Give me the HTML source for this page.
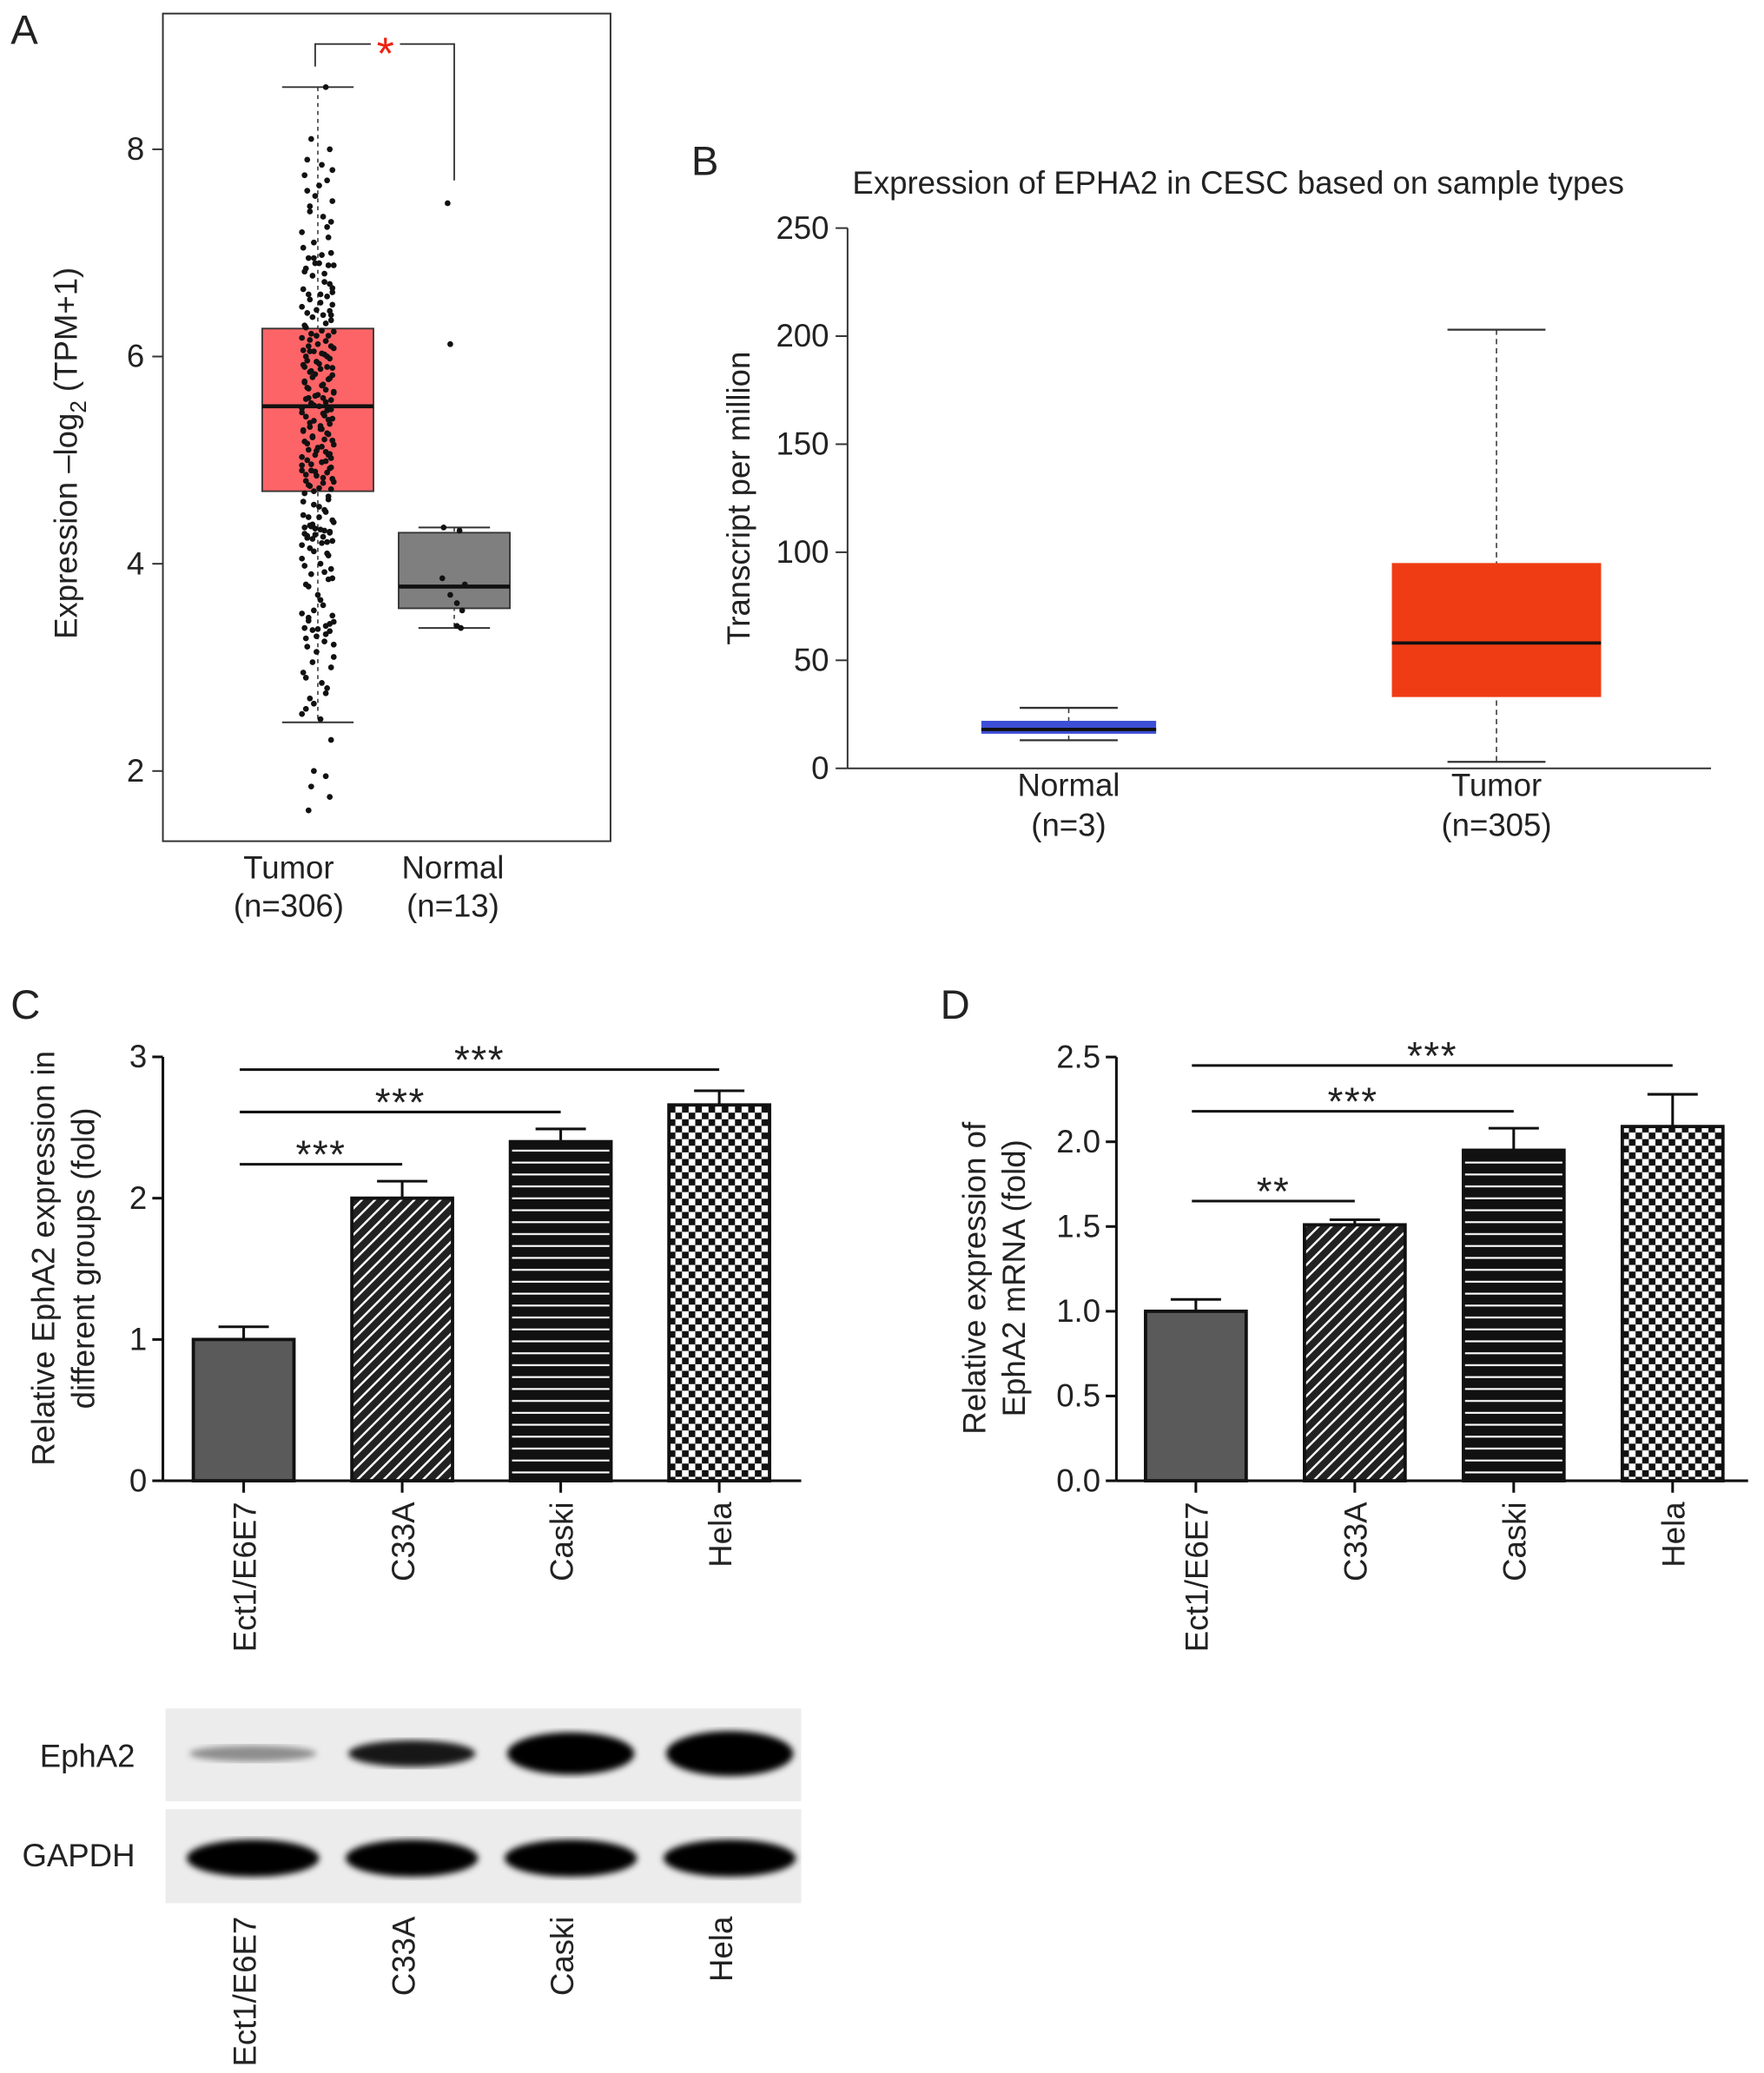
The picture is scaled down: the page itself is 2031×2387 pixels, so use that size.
<!DOCTYPE html>
<html><head><meta charset="utf-8"><style>
html,body{margin:0;padding:0;background:#fff}
svg{display:block}
text{font-family:"Liberation Sans",Arial,sans-serif;fill:#222}
</style></head><body>
<svg id="fig" width="2031" height="2387" viewBox="0 0 1332 1565" xmlns="http://www.w3.org/2000/svg">
<defs>
<pattern id="diag" width="7" height="7" patternUnits="userSpaceOnUse" patternTransform="rotate(45)"><rect width="7" height="7" fill="#222"/><rect x="0" width="1.6" height="7" fill="#fff"/></pattern>
<pattern id="horiz" width="8" height="9" patternUnits="userSpaceOnUse"><rect width="8" height="9" fill="#111"/><rect y="4" width="8" height="1.4" fill="#fff"/></pattern>
<pattern id="check" width="10" height="10" patternUnits="userSpaceOnUse"><rect width="10" height="10" fill="#fff"/><rect width="5" height="5" fill="#111"/><rect x="5" y="5" width="5" height="5" fill="#111"/></pattern>
<filter id="blur"><feGaussianBlur stdDeviation="2.5"/></filter>
</defs>
<g id="pA"></g>
<g id="pB"></g>
<g id="pC"></g>
<g id="pD"></g>
<g id="blot"></g>
</svg>
<script>
// ---- Panel A data ----
const aTicks=[2,4,6,8];
const aGroups=["Tumor","Normal"];
const aCounts=["(n=306)","(n=13)"];
const aLabelX=[218,342];
const aQ1=[4.7,3.57], aMed=[5.52,3.78], aQ3=[6.27,4.3], aLo=[2.47,3.38], aHi=[8.6,4.35];
const tumorPts=[8.6,8.1,8.0,7.9,7.85,7.75,7.7,7.55,7.5,7.45,7.35,7.2,7.15,7.1,7.0,6.95,6.9,6.88,6.85,6.8,6.78,6.7,6.65,6.6,6.58,6.55,6.5,6.45,6.42,6.4,6.35,6.3,6.25,6.22,6.2,6.18,6.15,6.12,6.1,6.08,6.05,6.02,6.0,5.98,5.95,5.92,5.9,5.88,5.85,5.82,5.8,5.78,5.75,5.72,5.7,5.68,5.65,5.62,5.6,5.58,5.55,5.52,5.5,5.48,5.45,5.42,5.4,5.38,5.35,5.32,5.3,5.28,5.25,5.22,5.2,5.18,5.15,5.12,5.1,5.08,5.05,5.02,5.0,4.98,4.95,4.92,4.9,4.88,4.85,4.82,4.8,4.78,4.75,4.72,4.7,4.65,4.6,4.55,4.5,4.45,4.4,4.38,4.35,4.32,4.3,4.28,4.25,4.22,4.2,4.15,4.1,4.05,4.0,3.95,3.9,3.85,3.8,3.7,3.6,3.55,3.5,3.45,3.4,3.38,3.35,3.3,3.25,3.2,3.1,3.05,2.95,2.85,2.8,2.7,2.6,2.5,2.3,2.0,1.95,1.85,1.75,1.62,6.62,6.9,5.9,5.6,5.05,4.9,4.45,6.05,6.4,5.3];
const tumorPts2=[6.95,6.88,6.82,6.72,6.66,6.6,6.52,6.48,6.44,6.38,6.32,6.28,6.24,6.2,6.16,6.1,6.06,6.03,6.0,5.96,5.93,5.89,5.86,5.83,5.79,5.76,5.73,5.69,5.66,5.63,5.59,5.56,5.53,5.49,5.46,5.43,5.39,5.36,5.33,5.29,5.26,5.23,5.19,5.16,5.13,5.09,5.06,5.03,4.99,4.96,4.93,4.89,4.86,4.83,4.79,4.76,4.73,4.68,4.62,4.57,4.52,4.47,4.42,4.37,4.33,4.3,4.27,4.24,4.21,4.18,4.12,4.08,3.98,3.92,3.86,3.78,3.65,3.52,3.42,3.36,3.32,3.28,3.22,3.15,7.4,7.3,7.05,6.98,7.25,7.6,7.65,7.8,4.36,4.34,4.31,4.29,4.26,3.48,3.44,3.37,2.9,2.75,2.65,3.0,2.55];
const tumorJit=[6,-5,9,-8,3,-10,7,-2,11,-6,4,-12,8,-3,10,-7,1,12,-9,5,-4,9,-11,2,7,-6,11,-1,-8,4,10,-10,3,-5,8,-12,6,0,-7,12,-3,5,-9,9,-1,-11,7,2,-6,11,-4,8,-10,3,-8,6,12,-2,-7,10,-5,1,-12,7,4,-9,11,-3,9,-6,2,-11,8,-4,5,-10,12,0,-7,6,-2,10,-8,3,-12,9,-5,7,-1,11,-9,4,-6,10,-3,8,-11,1,6,-7,12,-4,-10,5,9,-2,-8,11,3,-6,7,-12,2,10,-5,8,-9,0,4,-3,11,-7,6,-10,9,-1,5,-8,12,-4,-11,3,7,-6,-9,2,10,-3,6,-5,9,-7,11,-2,-10,4,8,-12,1,-6,10,3];
const tumorJit2=[-3,8,-10,5,11,-7,2,-12,9,-4,6,-9,12,-1,-6,10,-11,3,7,-8,1,11,-5,-2,9,-10,4,-7,12,0,-9,6,-3,10,-12,5,8,-6,2,-11,7,-4,11,-8,3,-1,9,-12,6,-5,10,-2,-9,4,12,-7,1,-10,8,-3,5,-11,11,-6,2,9,-8,-4,7,-12];
const normalPts=[7.48,6.12,4.35,4.32,3.86,3.8,3.7,3.62,3.55,3.4,3.38];
const normalJit=[-5,-3,-8,4,-9,8,-3,2,6,2,5];
// ---- Panel B data ----
const bTicks=[0,50,100,150,200,250];
const bGroups=["Normal","Tumor"];
const bCounts=["(n=3)","(n=305)"];
const bQ1=[16,33], bMed=[18,58], bQ3=[22,95], bLo=[13,3], bHi=[28,203];
// ---- Panel C data ----
const cCats=["Ect1/E6E7","C33A","Caski","Hela"];
const cVals=[1.0,2.0,2.4,2.66];
const cErr=[0.09,0.12,0.09,0.1];
const cTicks=[0,1,2,3];
const cSig=[[0,1,"***",2.24],[0,2,"***",2.61],[0,3,"***",2.91]];
// ---- Panel D data ----
const dCats=["Ect1/E6E7","C33A","Caski","Hela"];
const dVals=[1.0,1.51,1.95,2.09];
const dErr=[0.07,0.03,0.13,0.19];
const dTicks=[0,0.5,1,1.5,2,2.5];
const dTickLbl=["0.0","0.5","1.0","1.5","2.0","2.5"];
const dSig=[[0,1,"**",1.65],[0,2,"***",2.18],[0,3,"***",2.45]];
// ---- Blot ----
const blotLanes=["Ect1/E6E7","C33A","Caski","Hela"];
const ephaInt=[0.4,0.9,1.0,1.0];
const ephaH=[6,10,16,17];
const gapdhInt=[1,1,1,1];

const FS=24;
const NS="http://www.w3.org/2000/svg";
function mk(parent,tag,attrs,name,txt){const e=document.createElementNS(NS,tag);for(const k in attrs)e.setAttribute(k,attrs[k]);


if(txt!==undefined)e.textContent=txt;parent.appendChild(e);return e;}

// Panel A
(function(){const g=document.getElementById('pA');
const y=v=>582-(v-2)*78.25; const cx=[240,343]; const hw=42;
mk(g,'text',{x:8,y:33,'font-size':31},'panel-label-a','A');
mk(g,'rect',{x:123,y:10,width:338,height:625,fill:'none',stroke:'#333','stroke-width':1.3},'plot-frame');
aTicks.forEach(t=>{mk(g,'line',{x1:115,x2:123,y1:y(t),y2:y(t),stroke:'#333','stroke-width':1.3},'y-tick');
mk(g,'text',{x:109,y:y(t)+8,'font-size':FS,'text-anchor':'end'},'y-tick-label',t);});
const yl=mk(g,'text',{x:0,y:0,'font-size':FS,'text-anchor':'middle',transform:'translate(58,342) rotate(-90)'},'y-axis-title');
yl.innerHTML='Expression \u2013log<tspan font-size="17" dy="7">2</tspan><tspan dy="-7"> (TPM+1)</tspan>';
const fills=['#fc6467','#7f7f7f'];
for(let i=0;i<2;i++){
mk(g,'line',{x1:cx[i],x2:cx[i],y1:y(aHi[i]),y2:y(aLo[i]),stroke:'#333','stroke-dasharray':'3,3','stroke-width':1},'whisker');
mk(g,'line',{x1:cx[i]-27,x2:cx[i]+27,y1:y(aHi[i]),y2:y(aHi[i]),stroke:'#333','stroke-width':1.3},'whisker-cap');
mk(g,'line',{x1:cx[i]-27,x2:cx[i]+27,y1:y(aLo[i]),y2:y(aLo[i]),stroke:'#333','stroke-width':1.3},'whisker-cap');
mk(g,'rect',{x:cx[i]-hw,y:y(aQ3[i]),width:2*hw,height:y(aQ1[i])-y(aQ3[i]),fill:fills[i],stroke:'#333','stroke-width':1.2},'box-'+aGroups[i].toLowerCase());
mk(g,'line',{x1:cx[i]-hw,x2:cx[i]+hw,y1:y(aMed[i]),y2:y(aMed[i]),stroke:'#111','stroke-width':3},'median-line');
mk(g,'text',{x:aLabelX[i],y:663,'font-size':FS,'text-anchor':'middle'},'x-tick-label',aGroups[i]);
mk(g,'text',{x:aLabelX[i],y:692,'font-size':FS,'text-anchor':'middle'},'x-count-label',aCounts[i]);}
tumorPts.forEach((v,k)=>mk(g,'circle',{cx:cx[0]+tumorJit[k%tumorJit.length],cy:y(v),r:2.2,fill:'#111'},'tumor-point'));
tumorPts2.forEach((v,k)=>mk(g,'circle',{cx:cx[0]+tumorJit2[k%tumorJit2.length],cy:y(v),r:2.2,fill:'#111'},'tumor-point'));
normalPts.forEach((v,k)=>mk(g,'circle',{cx:cx[1]+normalJit[k],cy:y(v),r:2.2,fill:'#111'},'normal-point'));
mk(g,'path',{d:'M238 50 V33 H280 M302 33 H343 V136',fill:'none',stroke:'#333','stroke-width':1.2},'significance-bracket');
mk(g,'text',{x:291,y:52,'font-size':34,'text-anchor':'middle'},'significance-star','*').style.fill='#e21';
})();

// Panel B
(function(){const g=document.getElementById('pB');
const y=v=>580-v*1.632; const cx=[807,1130]; const hw=[66,79];
mk(g,'text',{x:522,y:132,'font-size':31},'panel-label-b','B');
mk(g,'text',{x:935,y:146,'font-size':FS,'text-anchor':'middle'},'chart-title','Expression of EPHA2 in CESC based on sample types');
mk(g,'line',{x1:640,x2:640,y1:y(250),y2:y(0),stroke:'#333','stroke-width':1.3},'y-axis');
mk(g,'line',{x1:640,x2:1292,y1:y(0),y2:y(0),stroke:'#333','stroke-width':1.3},'x-axis');
bTicks.forEach(t=>{mk(g,'line',{x1:631,x2:640,y1:y(t),y2:y(t),stroke:'#333','stroke-width':1.3},'y-tick');
mk(g,'text',{x:626,y:y(t)+8,'font-size':FS,'text-anchor':'end'},'y-tick-label',t);});
mk(g,'text',{x:0,y:0,'font-size':FS,'text-anchor':'middle',transform:'translate(566,376) rotate(-90)'},'y-axis-title','Transcript per million');
const fills=['#3d4fd6','#f03c14'];
for(let i=0;i<2;i++){
mk(g,'line',{x1:cx[i],x2:cx[i],y1:y(bHi[i]),y2:y(bLo[i]),stroke:'#333','stroke-dasharray':'4,3','stroke-width':1},'whisker');
mk(g,'line',{x1:cx[i]-37,x2:cx[i]+37,y1:y(bHi[i]),y2:y(bHi[i]),stroke:'#333','stroke-width':1.5},'whisker-cap');
mk(g,'line',{x1:cx[i]-37,x2:cx[i]+37,y1:y(bLo[i]),y2:y(bLo[i]),stroke:'#333','stroke-width':1.5},'whisker-cap');
mk(g,'rect',{x:cx[i]-hw[i],y:y(bQ3[i]),width:2*hw[i],height:y(bQ1[i])-y(bQ3[i]),fill:fills[i]},'box-'+bGroups[i].toLowerCase());
mk(g,'line',{x1:cx[i]-hw[i],x2:cx[i]+hw[i],y1:y(bMed[i]),y2:y(bMed[i]),stroke:'#111','stroke-width':2.5},'median-line');
mk(g,'text',{x:cx[i],y:601,'font-size':FS,'text-anchor':'middle'},'x-tick-label',bGroups[i]);
mk(g,'text',{x:cx[i],y:631,'font-size':FS,'text-anchor':'middle'},'x-count-label',bCounts[i]);}
})();

// bar chart helper
function barChart(g,o){
const y=v=>o.y0-v*o.k;
mk(g,'line',{x1:o.ax,x2:o.ax,y1:y(o.ticks[o.ticks.length-1]),y2:o.y0,stroke:'#111','stroke-width':2},'y-axis');
mk(g,'line',{x1:o.ax,x2:o.ax2,y1:o.y0,y2:o.y0,stroke:'#111','stroke-width':2},'x-axis');
o.ticks.forEach((t,i)=>{mk(g,'line',{x1:o.ax-8,x2:o.ax,y1:y(t),y2:y(t),stroke:'#111','stroke-width':2},'y-tick');
mk(g,'text',{x:o.ax-12,y:y(t)+8,'font-size':FS,'text-anchor':'end'},'y-tick-label',o.tl?o.tl[i]:t);});
const fills=['#5a5a5a','url(#diag)','url(#horiz)','url(#check)'];
o.cats.forEach((c,i)=>{const cx=o.cx0+i*o.dx;
mk(g,'line',{x1:cx,x2:cx,y1:o.y0,y2:o.y0+9,stroke:'#111','stroke-width':2},'x-tick');
mk(g,'line',{x1:cx,x2:cx,y1:y(o.vals[i]+o.err[i]),y2:y(o.vals[i]-o.err[i]),stroke:'#111','stroke-width':2},'error-bar');
mk(g,'line',{x1:cx-19,x2:cx+19,y1:y(o.vals[i]+o.err[i]),y2:y(o.vals[i]+o.err[i]),stroke:'#111','stroke-width':2},'error-cap');
mk(g,'line',{x1:cx-19,x2:cx+19,y1:y(o.vals[i]-o.err[i]),y2:y(o.vals[i]-o.err[i]),stroke:'#111','stroke-width':2},'error-cap');
mk(g,'rect',{x:cx-38,y:y(o.vals[i]),width:76,height:o.y0-y(o.vals[i]),fill:fills[i],stroke:'#111','stroke-width':2.5},'bar-'+c.toLowerCase().replace('/','-'));
mk(g,'text',{x:0,y:0,'font-size':FS,'text-anchor':'end',transform:`translate(${cx+9},${o.y0+16}) rotate(-90)`},'x-tick-label',c);});
o.sig.forEach(s=>{const x1=o.cx0+s[0]*o.dx-3,x2=o.cx0+s[1]*o.dx;
mk(g,'line',{x1:x1,x2:x2,y1:y(s[3]),y2:y(s[3]),stroke:'#111','stroke-width':2},'significance-line');
mk(g,'text',{x:(x1+x2)/2,y:y(s[3])+3,'font-size':30,'text-anchor':'middle','letter-spacing':1},'significance-stars',s[2]);});
}
(function(){const g=document.getElementById('pC');
mk(g,'text',{x:8,y:769,'font-size':31},'panel-label-c','C');
barChart(g,{y0:1118,k:106.7,ax:123,ax2:605,cx0:184,dx:119.7,cats:cCats,vals:cVals,err:cErr,ticks:cTicks,sig:cSig});
mk(g,'text',{x:0,y:0,'font-size':FS,'text-anchor':'middle',transform:'translate(41,950) rotate(-90)'},'y-axis-title','Relative EphA2 expression in');
mk(g,'text',{x:0,y:0,'font-size':FS,'text-anchor':'middle',transform:'translate(71,950) rotate(-90)'},'y-axis-title','different groups (fold)');
})();
(function(){const g=document.getElementById('pD');
mk(g,'text',{x:710,y:769,'font-size':31},'panel-label-d','D');
barChart(g,{y0:1118,k:128,ax:843,ax2:1320,cx0:903,dx:120,cats:dCats,vals:dVals,err:dErr,ticks:dTicks,tl:dTickLbl,sig:dSig});
mk(g,'text',{x:0,y:0,'font-size':FS,'text-anchor':'middle',transform:'translate(744,965) rotate(-90)'},'y-axis-title','Relative expression of');
mk(g,'text',{x:0,y:0,'font-size':FS,'text-anchor':'middle',transform:'translate(774,965) rotate(-90)'},'y-axis-title','EphA2 mRNA (fold)');
})();
// Blot
(function(){const g=document.getElementById('blot');
mk(g,'rect',{x:125,y:1290,width:480,height:70,fill:'#ececec'},'blot-strip-epha2');
mk(g,'rect',{x:125,y:1366,width:480,height:71,fill:'#ececec'},'blot-strip-gapdh');
mk(g,'text',{x:102,y:1334,'font-size':FS,'text-anchor':'end'},'row-label','EphA2');
mk(g,'text',{x:102,y:1409,'font-size':FS,'text-anchor':'end'},'row-label','GAPDH');
blotLanes.forEach((l,i)=>{const cx=184+i*120;
mk(g,'ellipse',{cx:cx+7,cy:1324,rx:48,ry:ephaH[i],fill:'#000','fill-opacity':ephaInt[i],filter:'url(#blur)'},'band-epha2');
mk(g,'ellipse',{cx:cx+7,cy:1403,rx:50,ry:14*gapdhInt[i],fill:'#000',filter:'url(#blur)'},'band-gapdh');
mk(g,'text',{x:0,y:0,'font-size':FS,'text-anchor':'end',transform:`translate(${cx+9},1447) rotate(-90)`},'lane-label',l);
});
})();
</script>
</body></html>
